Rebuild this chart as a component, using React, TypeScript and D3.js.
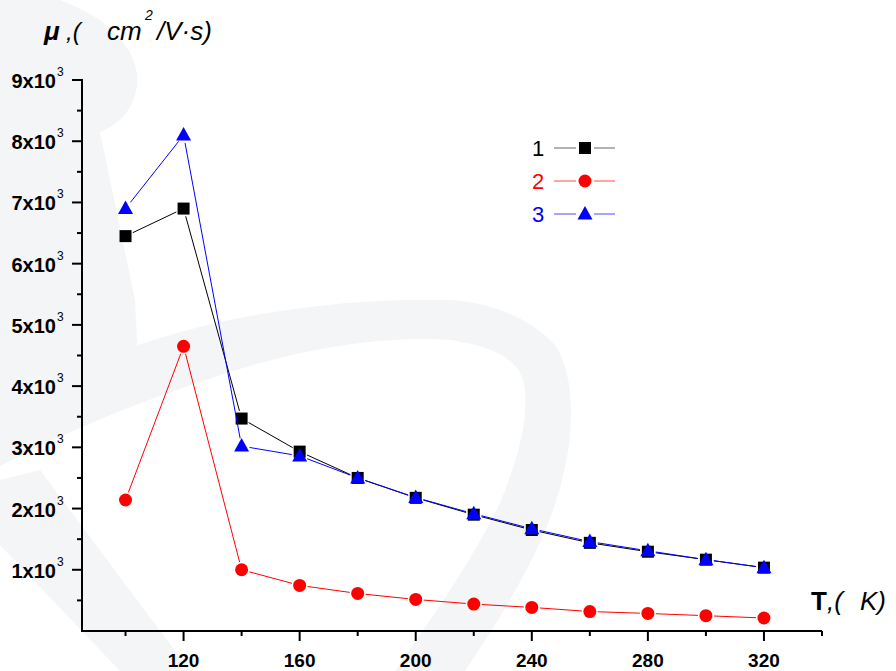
import React from "react";
import * as d3 from "d3";

const temps = [100, 120, 140, 160, 180, 200, 220, 240, 260, 280, 300, 320];
const series1 = [6450, 6900, 3470, 2930, 2500, 2175, 1900, 1650, 1440, 1295, 1165, 1035];
const series2 = [2140, 4650, 1000, 745, 613, 515, 440, 385, 318, 287, 250, 212];
const series3 = [6900, 8100, 3020, 2860, 2500, 2180, 1915, 1670, 1460, 1310, 1165, 1035];
const seriesNames = ["1", "2", "3"];
const seriesColors = ["#000000", "#ff0000", "#0000ff"];
const yMajorTicks = [1, 2, 3, 4, 5, 6, 7, 8, 9];
const yMinorTicks = [500, 1500, 2500, 3500, 4500, 5500, 6500, 7500, 8500];
const xMajorTicks = [120, 160, 200, 240, 280, 320];
const xMinorTicks = [100, 140, 180, 220, 260, 300, 340];

const FONT = "'Liberation Sans', Arial, sans-serif";

function Marker({ kind, cx, cy, color }: { kind: number; cx: number; cy: number; color: string }) {
  if (kind === 0) return <rect x={cx - 6} y={cy - 6} width={12} height={12} fill={color} />;
  if (kind === 1) return <circle cx={cx} cy={cy} r={6.5} fill={color} />;
  return <path d={`M${cx},${cy - 8}L${cx + 7.5},${cy + 5.5}L${cx - 7.5},${cy + 5.5}Z`} fill={color} />;
}

function gapSegments(pts: [number, number][], gap: number) {
  const segs: [number, number, number, number][] = [];
  for (let i = 0; i < pts.length - 1; i++) {
    const [x1, y1] = pts[i];
    const [x2, y2] = pts[i + 1];
    const dx = x2 - x1, dy = y2 - y1;
    const len = Math.hypot(dx, dy);
    if (len <= gap * 2 + 1) continue;
    const ux = dx / len, uy = dy / len;
    segs.push([x1 + ux * gap, y1 + uy * gap, x2 - ux * gap, y2 - uy * gap]);
  }
  return segs;
}

export default function App() {
  const W = 896, H = 671;
  const x = d3.scaleLinear().domain([85, 340]).range([82, 822]);
  const y = d3.scaleLinear().domain([0, 9000]).range([631, 80]);
  const all = [series1, series2, series3];
  const wm = "#f4f5f7";

  return (
    <svg width={W} height={H} style={{ position: "absolute", left: 0, top: 0, background: "#fff" }} fontFamily={FONT}>
      {/* faint watermark */}
      <g fill={wm}>
        <path d="M0,0 L60,0 C115,20 140,55 137,85 C134,110 118,125 100,132 L0,160 Z" />
        <path d="M0,160 L100,132 L135,300 L140,400 L0,411 Z" />
        <path d="M0,411 C60,375 120,345 220,322 C300,305 380,298 450,300 C490,302 530,318 555,345 C575,375 575,430 562,480 C550,530 520,590 465,671 L395,671 C430,620 470,565 500,503 C518,460 528,420 525,390 C522,365 505,348 450,340 C380,335 290,350 200,382 C130,405 60,435 0,466 Z" />
        <path d="M0,480 L40,470 L190,671 L120,671 L0,545 Z" />
      </g>

      {/* axes */}
      <line x1={82} y1={631} x2={822} y2={631} stroke="#000" strokeWidth={2} />
      <line x1={82} y1={79} x2={82} y2={632} stroke="#000" strokeWidth={2} />
      {yMajorTicks.map((v) => (
        <g key={"ym" + v}>
          <line x1={72} x2={82} y1={y(v * 1000)} y2={y(v * 1000)} stroke="#000" strokeWidth={2} />
          <text x={56} y={y(v * 1000) + 8} textAnchor="end" fontSize={20} fontWeight="bold">{`${v}x10`}</text>
          <text x={57} y={y(v * 1000) - 4} fontSize={12}>3</text>
        </g>
      ))}
      {yMinorTicks.map((v) => (
        <line key={"yn" + v} x1={77} x2={82} y1={y(v)} y2={y(v)} stroke="#000" strokeWidth={2} />
      ))}
      {xMajorTicks.map((v) => (
        <g key={"xm" + v}>
          <line x1={x(v)} x2={x(v)} y1={631} y2={641} stroke="#000" strokeWidth={2} />
          <text x={x(v)} y={667} textAnchor="middle" fontSize={19} fontWeight="bold">{v}</text>
        </g>
      ))}
      {xMinorTicks.map((v) => (
        <line key={"xn" + v} x1={x(v)} x2={x(v)} y1={631} y2={636} stroke="#000" strokeWidth={2} />
      ))}

      {/* series */}
      {all.map((s, si) => {
        const pts = s.map((v, i) => [x(temps[i]), y(v)] as [number, number]);
        return (
          <g key={"s" + si}>
            {gapSegments(pts, 8).map((sg, k) => (
              <line key={k} x1={sg[0]} y1={sg[1]} x2={sg[2]} y2={sg[3]} stroke={seriesColors[si]} strokeWidth={1} />
            ))}
            {pts.map((p, k) => (
              <Marker key={k} kind={si} cx={p[0]} cy={p[1]} color={seriesColors[si]} />
            ))}
          </g>
        );
      })}

      {/* legend */}
      {seriesNames.map((n, i) => {
        const cy = 148 + i * 33;
        return (
          <g key={"lg" + n}>
            <text x={532} y={cy + 8} fontSize={22} fill={seriesColors[i]}>{n}</text>
            <line x1={554} x2={576} y1={cy} y2={cy} stroke={seriesColors[i]} strokeWidth={1} opacity={i === 0 ? 0.6 : 0.7} />
            <line x1={594} x2={615} y1={cy} y2={cy} stroke={seriesColors[i]} strokeWidth={1} opacity={i === 0 ? 0.6 : 0.7} />
            <Marker kind={i} cx={585} cy={cy} color={seriesColors[i]} />
          </g>
        );
      })}

      {/* axis titles */}
      <text x={44} y={40} fontSize={26} fontWeight="bold" fontStyle="italic">μ</text>
      <text x={66} y={40} fontSize={24} fontStyle="italic">,(</text>
      <text x={107} y={40} fontSize={26} fontStyle="italic">cm</text>
      <text x={145} y={20} fontSize={14} fontStyle="italic">2</text>
      <text x={157} y={40} fontSize={26} fontStyle="italic">/V·s)</text>

      <text x={811} y={610} fontSize={26} fontWeight="bold">T</text>
      <text x={827} y={610} fontSize={26} fontStyle="italic">,(</text>
      <text x={860} y={610} fontSize={26} fontStyle="italic">K)</text>
    </svg>
  );
}
